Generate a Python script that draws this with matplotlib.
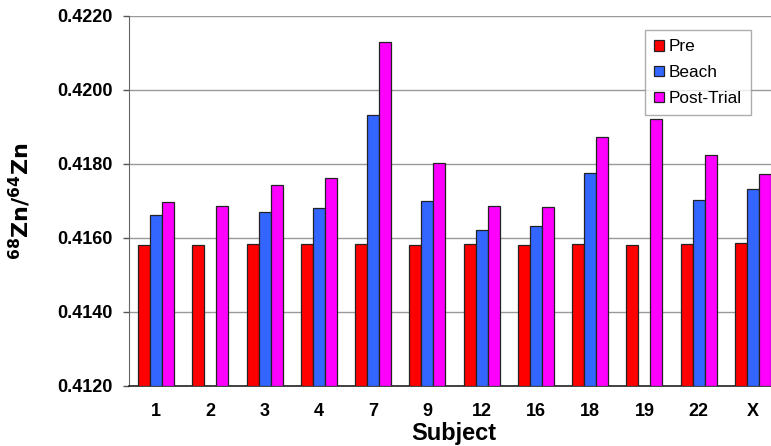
import matplotlib
matplotlib.use("Agg")
import matplotlib.pyplot as plt
import numpy as np

plt.rcParams['font.family'] = ['Liberation Sans', 'DejaVu Sans']

subjects = ['1', '2', '3', '4', '7', '9', '12', '16', '18', '19', '22', 'X']
pre = [0.41582, 0.41582, 0.41584, 0.41584, 0.41584, 0.41582, 0.41584, 0.41582, 0.41584, 0.41582, 0.41584, 0.41586]
beach = [0.41662, np.nan, 0.41669, 0.41680, 0.41933, 0.41701, 0.41622, 0.41632, 0.41777, np.nan, 0.41703, 0.41733]
post = [0.41696, 0.41686, 0.41742, 0.41763, 0.42130, 0.41803, 0.41686, 0.41683, 0.41874, 0.41922, 0.41825, 0.41773]
series_names = ['Pre', 'Beach', 'Post-Trial']
colors = ['#ff0000', '#3366ff', '#ff00ff']

fig = plt.figure(figsize=(7.71, 4.46), dpi=100)
ax = fig.add_axes([129/771, 60/446, 651/771, 370/446])

x = np.arange(len(subjects))
w = 0.22
base = 0.4120
for i, (vals, c, n) in enumerate(zip([pre, beach, post], colors, series_names)):
    v = np.array(vals, dtype=float)
    ax.bar(x + (i - 1) * w, v - base, bottom=base, width=w, color=c,
           edgecolor='#222222', linewidth=0.9, label=n, zorder=3)

ax.set_xlim(-0.5, len(subjects) - 0.5)
ax.set_ylim(0.4120, 0.4220)
yt = np.arange(0.4120, 0.42201, 0.0020)
ax.set_yticks(yt)
ax.set_yticklabels([f'{t:.4f}' for t in yt], fontsize=13, fontweight='bold')
ax.set_xticks(x)
ax.set_xticklabels(subjects, fontsize=13, fontweight='bold')
ax.tick_params(axis='x', length=0, pad=12)
ax.tick_params(axis='y', length=4, width=1, color='#555555', pad=8)
ax.grid(axis='y', color='#999999', linewidth=1, zorder=0)
ax.set_axisbelow(True)
for s in ['top', 'right']:
    ax.spines[s].set_visible(False)
ax.spines['left'].set_color('#666666')
ax.spines['bottom'].set_color('#222222')
ax.spines['bottom'].set_linewidth(1.2)

ax.set_xlabel('Subject', fontsize=17, fontweight='bold')
ax.xaxis.set_label_coords(325/651, -36/370)
ax.set_ylabel(r'$\mathbf{^{68}Zn/^{64}Zn}$', fontsize=16, fontweight='bold')
ax.yaxis.set_label_coords(-95/651, 0.5)

leg = ax.legend(loc='upper left', bbox_to_anchor=(516/651, 1 - 14/370), fontsize=12.4,
                frameon=True, fancybox=False, edgecolor='#999999',
                handlelength=0.55, handleheight=0.55, handletextpad=0.25,
                labelspacing=0.62, borderpad=0.55, borderaxespad=0)
leg.get_frame().set_linewidth(1)

fig.savefig('out.png', dpi=100)
